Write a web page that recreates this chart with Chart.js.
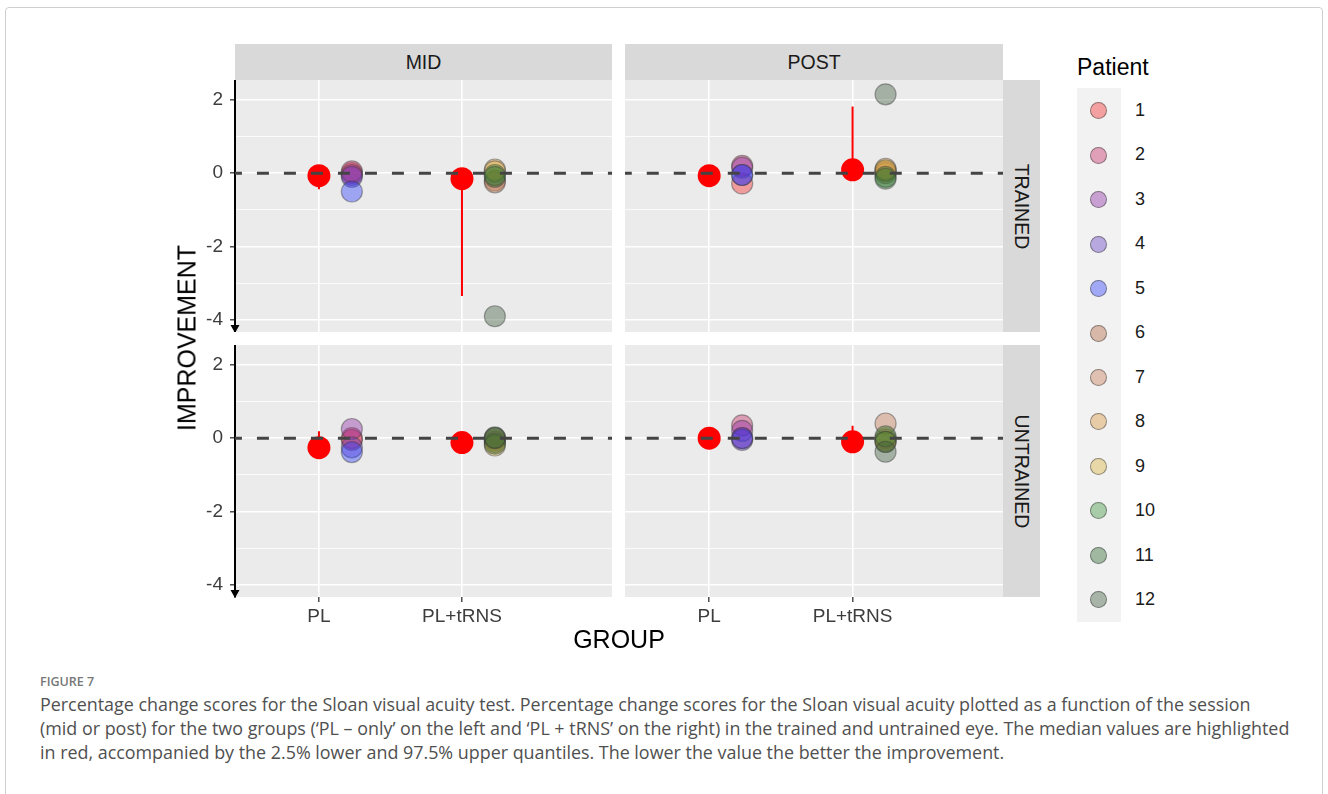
<!DOCTYPE html>
<html>
<head>
<meta charset="utf-8">
<script src="https://cdn.jsdelivr.net/npm/chart.js@4.4.0/dist/chart.umd.min.js"></script>
<style>
body { margin: 0; background: #fff; width: 1328px; height: 794px; overflow: hidden; position: relative; font-family: "Liberation Sans", Arial, sans-serif; }
.frame { position: absolute; left: 5px; top: 7px; width: 1316px; height: 820px; border: 1px solid #cfcfcf; border-radius: 4px; }
.panel { position: absolute; }
.strip { position: absolute; background: #D9D9D9; color: #1A1A1A; font-size: 19.5px; display: flex; align-items: center; justify-content: center; }
.strip.v span { transform: rotate(90deg); white-space: nowrap; display: block; }
.title { position: absolute; color: #000; font-size: 25px; white-space: nowrap; }
#legend { position: absolute; left: 1077px; top: 88px; width: 44px; height: 534px; background: #F2F2F2; }
.key { position: absolute; left: 13px; width: 15px; height: 15px; border-radius: 50%; border: 1.2px solid rgba(70,70,70,0.55); }
.klab { position: absolute; left: 58px; font-size: 18px; color: #1A1A1A; }
.cap { position: absolute; left: 40px; font-family: "Open Sans", Lato, sans-serif; white-space: nowrap; }
</style>
</head>
<body>
<div class="frame"></div>

<div class="strip" style="left:235px;top:44px;width:377px;height:36px;">MID</div>
<div class="strip" style="left:625px;top:44px;width:378px;height:36px;">POST</div>
<div class="strip v" style="left:1003px;top:80px;width:37px;height:252px;"><span>TRAINED</span></div>
<div class="strip v" style="left:1003px;top:345px;width:37px;height:252px;"><span>UNTRAINED</span></div>

<div class="panel" style="left:190px;top:80px;width:422px;height:252px;"><canvas id="tl"></canvas></div>
<div class="panel" style="left:625px;top:80px;width:378px;height:252px;"><canvas id="tr"></canvas></div>
<div class="panel" style="left:190px;top:345px;width:422px;height:288px;"><canvas id="bl"></canvas></div>
<div class="panel" style="left:625px;top:345px;width:378px;height:288px;"><canvas id="br"></canvas></div>

<div class="title" style="left:187px;top:338px;transform:translate(-50%,-50%) rotate(-90deg);">IMPROVEMENT</div>
<div class="title" style="left:619px;top:639px;transform:translate(-50%,-50%);">GROUP</div>
<div class="title" style="left:1077px;top:54px;font-size:23px;">Patient</div>
<div id="legend"></div>

<div class="cap" style="top:673px;font-size:12.5px;font-weight:600;color:#777;">FIGURE 7</div>
<div class="cap" style="top:692px;font-size:17.9px;color:#505050;line-height:24px;">Percentage change scores for the Sloan visual acuity test. Percentage change scores for the Sloan visual acuity plotted as a function of the session<br>(mid or post) for the two groups (‘PL – only’ on the left and ‘PL + tRNS’ on the right) in the trained and untrained eye. The median values are highlighted<br>in red, accompanied by the 2.5% lower and 97.5% upper quantiles. The lower the value the better the improvement.</div>

<script>
const patients = ['1', '2', '3', '4', '5', '6', '7', '8', '9', '10', '11', '12'];
const groupOf = [1, 1, 1, 1, 1, 2, 2, 2, 2, 2, 2, 2];
const groupLabels = ['PL', 'PL+tRNS'];
const yTicks = [-4, -3, -2, -1, 0, 1, 2];

// patient scores, one per patient
const midTrained = [0.0, 0.05, -0.05, -0.1, -0.5, -0.2, -0.25, 0.1, 0.05, -0.05, -0.1, -3.9];
const postTrained = [-0.28, 0.2, 0.15, -0.05, -0.05, 0.05, 0.0, 0.12, 0.08, -0.1, -0.15, 2.15];
const midUntrained = [0.0, -0.05, 0.25, -0.25, -0.38, -0.05, 0.0, -0.1, -0.2, 0.02, -0.15, 0.0];
const postUntrained = [0.0, 0.35, 0.2, -0.05, 0.0, 0.0, 0.4, -0.05, -0.1, 0.05, -0.1, -0.37];

// medians and 2.5% / 97.5% quantiles, [PL, PL+tRNS]
const midTrainedMed = [-0.07, -0.15], midTrainedLo = [-0.44, -3.35], midTrainedHi = [0.02, 0.05];
const postTrainedMed = [-0.07, 0.09], postTrainedLo = [-0.27, -0.14], postTrainedHi = [0.18, 1.82];
const midUntrainedMed = [-0.26, -0.12], midUntrainedLo = [-0.37, -0.2], midUntrainedHi = [0.19, 0.03];
const postUntrainedMed = [0.0, -0.1], postUntrainedLo = [-0.05, -0.35], postUntrainedHi = [0.25, 0.34];

const colors = [
    'rgba(247,37,37,0.4)', 'rgba(197,37,97,0.4)', 'rgba(137,37,162,0.4)', 'rgba(97,57,197,0.4)',
    'rgba(40,60,255,0.4)', 'rgba(177,97,57,0.4)', 'rgba(197,117,77,0.4)', 'rgba(217,147,57,0.4)',
    'rgba(217,177,57,0.4)', 'rgba(57,147,57,0.4)', 'rgba(37,97,37,0.4)', 'rgba(57,87,57,0.4)'
];

const panelBg = {
    id: 'panelBg',
    beforeDraw(chart) {
        const { ctx, chartArea: a } = chart;
        ctx.save();
        ctx.fillStyle = '#EBEBEB';
        ctx.fillRect(a.left, a.top, a.width, a.height);
        ctx.restore();
    }
};

const arrow = {
    id: 'arrow',
    afterDraw(chart, args, opts) {
        if (!opts.show) return;
        const { ctx, chartArea: a } = chart;
        ctx.save();
        ctx.fillStyle = '#000';
        ctx.beginPath();
        ctx.moveTo(a.left - 4.5, a.bottom - 7);
        ctx.lineTo(a.left + 4.5, a.bottom - 7);
        ctx.lineTo(a.left, a.bottom + 1);
        ctx.closePath();
        ctx.fill();
        ctx.restore();
    }
};

function makePanel(id, values, med, lo, hi, showY, showX) {
    const datasets = [];
    datasets.push({
        type: 'line', data: [{ x: 0, y: 0 }, { x: 4, y: 0 }], showLine: true,
        borderColor: '#444', borderWidth: 3, borderDash: [12, 15], pointRadius: 0, order: 0
    });
    datasets.push({
        type: 'scatter', data: med.map((v, i) => ({ x: i + 1, y: v })),
        pointRadius: 11.5, backgroundColor: '#FF0000', borderWidth: 0, order: 1
    });
    datasets.push({
        type: 'line', showLine: true, spanGaps: false,
        data: [{ x: 1, y: lo[0] }, { x: 1, y: hi[0] }, { x: 1.5, y: null }, { x: 2, y: lo[1] }, { x: 2, y: hi[1] }],
        borderColor: '#FF0000', borderWidth: 2, pointRadius: 0, order: 2
    });
    for (let i = 0; i < patients.length; i++) {
        datasets.push({
            type: 'scatter', label: patients[i],
            data: [{ x: groupOf[i] + 0.23, y: values[i] }],
            pointRadius: 10.5, backgroundColor: colors[i],
            borderColor: 'rgba(60,60,60,0.45)', borderWidth: 1.2, order: 100 - i
        });
    }
    new Chart(document.getElementById(id), {
        type: 'scatter',
        data: { datasets },
        options: {
            responsive: true, maintainAspectRatio: false, animation: false,
            layout: { padding: 0, autoPadding: false },
            plugins: { legend: { display: false }, tooltip: { enabled: false }, arrow: { show: showY } },
            scales: {
                x: {
                    type: 'linear', min: 0.413, max: 3.049,
                    afterBuildTicks: s => { s.ticks = [1, 2].map(v => ({ value: v })); },
                    afterFit: s => { s.height = showX ? 36 : 0; s.paddingLeft = 0; s.paddingRight = 0; },
                    border: { display: false },
                    grid: { color: '#FFFFFF', lineWidth: 1.6, drawTicks: showX, tickLength: 5, tickColor: '#333', tickWidth: 1.3 },
                    ticks: {
                        display: showX, padding: 3, color: '#3d3d3d',
                        font: { family: '"Liberation Sans", Arial, sans-serif', size: 19 },
                        callback: v => groupLabels[v - 1]
                    }
                },
                y: {
                    type: 'linear', min: -4.33, max: 2.54,
                    afterBuildTicks: s => { s.ticks = yTicks.map(v => ({ value: v })); },
                    afterFit: s => { s.width = showY ? 45 : 0; s.paddingTop = 0; s.paddingBottom = 0; },
                    border: { display: showY, color: '#000', width: 2 },
                    grid: {
                        color: '#FFFFFF',
                        lineWidth: c => (c.tick && Math.abs(c.tick.value) % 2 === 0 ? 1.6 : 0.8),
                        drawTicks: showY, tickLength: 5, tickWidth: 1.3,
                        tickColor: c => (c.tick && Math.abs(c.tick.value) % 2 === 0 ? '#333' : 'rgba(0,0,0,0)')
                    },
                    ticks: {
                        display: showY, padding: 7, color: '#3d3d3d',
                        font: { family: '"Liberation Sans", Arial, sans-serif', size: 19 },
                        callback: v => (Math.abs(v) % 2 === 0 ? String(v) : '')
                    }
                }
            }
        },
        plugins: [panelBg, arrow]
    });
}

makePanel('tl', midTrained, midTrainedMed, midTrainedLo, midTrainedHi, true, false);
makePanel('tr', postTrained, postTrainedMed, postTrainedLo, postTrainedHi, false, false);
makePanel('bl', midUntrained, midUntrainedMed, midUntrainedLo, midUntrainedHi, true, true);
makePanel('br', postUntrained, postUntrainedMed, postUntrainedLo, postUntrainedHi, false, true);

const legend = document.getElementById('legend');
patients.forEach((p, i) => {
    const cy = 23 + i * 44.45;
    const k = document.createElement('div');
    k.className = 'key';
    k.style.top = (cy - 8.7) + 'px';
    k.style.background = colors[i];
    legend.appendChild(k);
    const t = document.createElement('div');
    t.className = 'klab';
    t.style.top = (cy - 11) + 'px';
    t.textContent = p;
    legend.appendChild(t);
});
</script>
</body>
</html>
